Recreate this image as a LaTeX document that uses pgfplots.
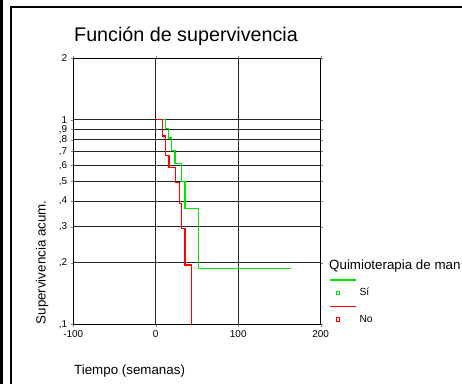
\documentclass[border=0pt]{standalone}
\usepackage{pgfplots}
\pgfplotsset{compat=1.18}
\usepackage{fontspec}
\setmainfont{Liberation Sans}
\definecolor{kmgreen}{RGB}{0,230,0}
\definecolor{kmred}{RGB}{255,0,0}
\begin{document}
\begin{tikzpicture}
\useasboundingbox (0bp,0bp) rectangle (462bp,384bp);
% window frame
\draw[line width=2.4bp] (1.3bp,-5bp) -- (1.3bp,390bp);
\draw[line width=2bp] (470bp,376.6bp) -- (10.6bp,376.6bp) -- (10.6bp,-5bp);

\begin{axis}[
  at={(73.3bp,59.7bp)}, anchor=south west,
  scale only axis, width=247.4bp, height=266bp,
  xmin=-100, xmax=200,
  ymode=log, ymin=0.1, ymax=2,
  xtick={-100,0,100,200},
  ytick={0.1,0.2,0.3,0.4,0.5,0.6,0.7,0.8,0.9,1,2},
  yticklabels={{,1},{,2},{,3},{,4},{,5},{,6},{,7},{,8},{,9},1,2},
  minor ytick={},
  tick align=outside,
  major tick length=2.6bp,
  axis line style={line width=1.3bp},
  xmajorgrids, ymajorgrids,
  grid style={black!85, line width=0.7bp},
  /pgf/number format/assume math mode=true,
  ticklabel style={font=\fontsize{10}{12}\selectfont},
  legend cell align=left,
  legend style={at={(rel axis cs:1.0336,0.1703)}, anchor=north west,
    draw=none, fill=none, inner sep=0pt, row sep=0pt, column sep=1bp,
    font=\fontsize{10.3}{12}\selectfont},
]
% Quimioterapia de mantenimiento: Si (steps)
\addplot[draw=kmgreen, line width=1.3bp, mark=none,
  legend image code/.code={
    \draw[draw=kmgreen, line width=1.3bp] (0bp,13bp) -- (26bp,13bp);
    \draw[draw=kmgreen, line width=1bp] (6.2bp,-1.8bp) rectangle (9.8bp,1.8bp);
    \path[draw=none] (0bp,-13bp) rectangle (14bp,13bp);}]
  coordinates {
  (0,1) (11.4,1) (11.4,0.909) (15.2,0.909) (15.2,0.815)
  (19.2,0.815) (19.2,0.710) (23.4,0.710) (23.4,0.612)
  (31.5,0.612) (31.5,0.50) (35.3,0.50) (35.3,0.368)
  (51.9,0.368) (51.9,0.188) (164,0.188)
};
\addlegendentry{Sí}
% Quimioterapia de mantenimiento: No (steps)
\addplot[draw=kmred, line width=1.3bp, mark=none,
  legend image code/.code={
    \draw[draw=kmred, line width=1.3bp] (0bp,13bp) -- (26bp,13bp);
    \draw[draw=kmred, line width=1bp] (6.2bp,-1.8bp) rectangle (9.8bp,1.8bp);
    \path[draw=none] (0bp,-13bp) rectangle (14bp,13bp);}]
  coordinates {
  (0,1) (8.1,1) (8.1,0.835) (12.2,0.835) (12.2,0.667)
  (16.2,0.667) (16.2,0.583) (24.3,0.583) (24.3,0.494)
  (28.4,0.494) (28.4,0.389) (31.2,0.389) (31.2,0.293)
  (35.3,0.293) (35.3,0.195) (43.4,0.195) (43.4,0.05)
};
\addlegendentry{No}
\end{axis}

\node[anchor=base west, inner sep=0pt, font=\fontsize{19.8}{23}\selectfont]
  at (74bp,342.7bp) {Función de supervivencia};
\node[anchor=base west, inner sep=0pt, font=\fontsize{13.4}{15}\selectfont]
  at (74bp,9.5bp) {Tiempo (semanas)};
\node[anchor=base west, rotate=90, inner sep=0pt, font=\fontsize{13.4}{15}\selectfont]
  at (45.5bp,59.5bp) {Supervivencia acum.};
\node[anchor=base west, inner sep=0pt, font=\fontsize{13.4}{15}\selectfont]
  at (329bp,114.7bp) {Quimioterapia de man};
\end{tikzpicture}
\end{document}
